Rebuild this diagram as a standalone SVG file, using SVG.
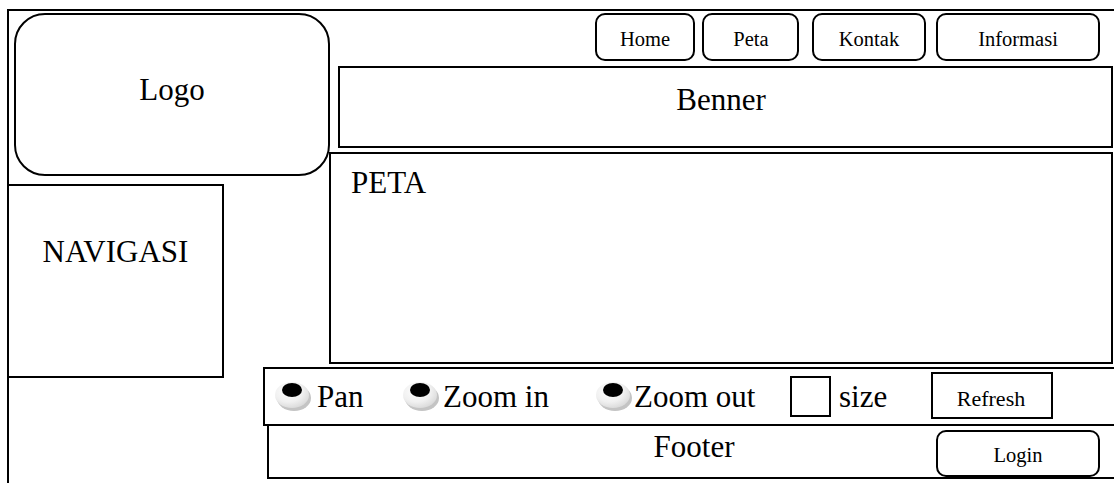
<svg xmlns="http://www.w3.org/2000/svg" width="1114" height="483" viewBox="0 0 1114 483">
<defs>
<radialGradient id="rg" cx="0.4" cy="0.35" r="0.7">
<stop offset="0" stop-color="#ffffff"/>
<stop offset="0.6" stop-color="#f0f0f0"/>
<stop offset="1" stop-color="#d8d8d8"/>
</radialGradient>
<g id="radio">
<ellipse cx="2" cy="3" rx="17" ry="13" fill="#c4c4c4"/>
<ellipse cx="0" cy="0" rx="17" ry="13" fill="url(#rg)"/>
<ellipse cx="0" cy="-5" rx="10" ry="7" fill="#000"/>
</g>
</defs>
<style>
.box{fill:#fff;stroke:#000;stroke-width:2}
.t{font-family:'Liberation Serif','Tinos','Times New Roman','DejaVu Serif',serif;fill:#000}
.big{font-size:31px}
.sm{font-size:20.5px}
</style>
<rect width="1114" height="483" fill="#fff"/>
<g id="frame"><rect class="box" x="8" y="10" width="1130" height="500"/></g>
<g id="logo"><rect class="box" x="15" y="14" width="314" height="161" rx="30"/><text class="t big" x="172" y="100" text-anchor="middle" font-family="Liberation Serif, serif">Logo</text></g>
<g id="navigasi"><rect class="box" x="8" y="185" width="215" height="192"/><text class="t big" x="115.5" y="262" text-anchor="middle">NAVIGASI</text></g>
<g id="home"><rect class="box" x="596" y="14" width="98" height="46" rx="9"/><text class="t sm" x="645" y="46" text-anchor="middle">Home</text></g>
<g id="peta-btn"><rect class="box" x="703" y="14" width="95" height="46" rx="9"/><text class="t sm" x="751" y="46" text-anchor="middle">Peta</text></g>
<g id="kontak"><rect class="box" x="813" y="14" width="112" height="46" rx="9"/><text class="t sm" x="869" y="46" text-anchor="middle">Kontak</text></g>
<g id="informasi"><rect class="box" x="937" y="14" width="162" height="46" rx="9"/><text class="t sm" x="1018" y="46" text-anchor="middle">Informasi</text></g>
<g id="benner"><rect class="box" x="339" y="67" width="773" height="80"/><text class="t big" x="721" y="110" text-anchor="middle">Benner</text></g>
<g id="peta"><rect class="box" x="330" y="153" width="782" height="210"/><text class="t big" x="351" y="193">PETA</text></g>
<g id="controls">
<rect class="box" x="264" y="368" width="870" height="57"/>
<use href="#radio" x="292" y="395"/>
<text class="t big" x="317" y="407">Pan</text>
<use href="#radio" x="420" y="395"/>
<text class="t big" x="443" y="407">Zoom in</text>
<use href="#radio" x="613" y="395"/>
<text class="t big" x="634" y="407">Zoom out</text>
<rect class="box" x="791" y="377" width="39" height="39"/>
<text class="t big" x="839" y="407">size</text>
<rect class="box" x="932" y="373" width="120" height="45"/>
<text class="t" font-size="22" x="991" y="406" text-anchor="middle">Refresh</text>
</g>
<g id="footer">
<rect class="box" x="268" y="425" width="870" height="53"/>
<text class="t big" x="694" y="457" text-anchor="middle">Footer</text>
<rect class="box" x="937" y="431" width="162" height="45" rx="9"/>
<text class="t sm" x="1018" y="462" text-anchor="middle">Login</text>
</g>
<g id="connectors"/>
</svg>
